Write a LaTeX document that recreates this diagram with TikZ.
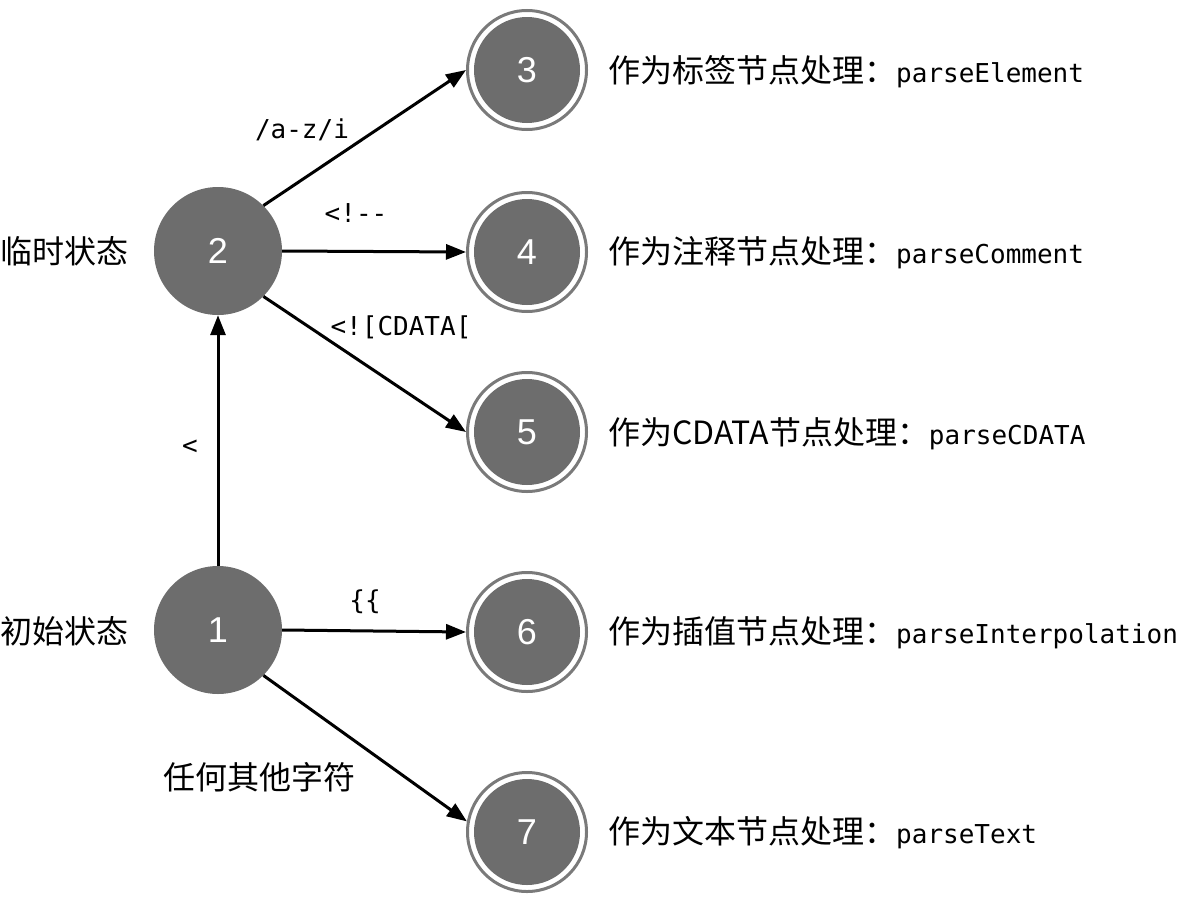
\documentclass[tikz,border=0pt]{standalone}
\usepackage{fontspec}
\setmainfont{Liberation Sans}
\newfontfamily\cjk{Noto Sans CJK SC}
\newfontfamily\mono{DejaVu Sans Mono}
\usetikzlibrary{arrows.meta}
\definecolor{stategray}{HTML}{6D6D6D}
\definecolor{ringgray}{HTML}{7A7A7A}
\tikzset{
  state/.style={circle, fill=stategray, inner sep=0pt, minimum size=128pt, text=white, font=\fontsize{36}{40}\selectfont},
  acc/.style={circle, fill=stategray, inner sep=0pt, minimum size=106pt, text=white, font=\fontsize{36}{40}\selectfont},
  ring/.style={circle, draw=ringgray, line width=3pt, fill=white, inner sep=0pt, minimum size=119pt},
  trans/.style={line width=3pt, -{Triangle[length=20pt,width=15pt]}},
  cjklabel/.style={font=\cjk\fontsize{32}{36}\selectfont, inner sep=0pt},
  monolabel/.style={font=\mono\fontsize{26}{30}\selectfont, inner sep=0pt},
  desc/.style={anchor=west, inner sep=0pt}
}
\newcommand{\desctext}[2]{{\cjk\fontsize{32}{36}\selectfont #1}{\mono\fontsize{26}{30}\selectfont #2}}
\begin{document}
\begin{tikzpicture}[x=1pt,y=-1pt]
\useasboundingbox (0,0) rectangle (1185,902);
% start states
\node[state] (n1) at (218,630) {1};
\node[state] (n2) at (218,251) {2};
% accepting states
\node[ring] (o3) at (527,70) {};
\node[acc] (n3) at (527,70) {3};
\node[ring] (o4) at (527,252) {};
\node[acc] (n4) at (527,252) {4};
\node[ring] (o5) at (527,432) {};
\node[acc] (n5) at (527,432) {5};
\node[ring] (o6) at (527,632) {};
\node[acc] (n6) at (527,632) {6};
\node[ring] (o7) at (527,832) {};
\node[acc] (n7) at (527,832) {7};
% side labels
\node[cjklabel, anchor=west] (l2) at (0,251) {临时状态};
\node[cjklabel, anchor=west] (l1) at (0,631) {初始状态};
\node[desc] (d3) at (608,72) {\desctext{作为标签节点处理：}{parseElement}};
\node[desc] (d4) at (608,253) {\desctext{作为注释节点处理：}{parseComment}};
\node[desc] (d5) at (608,434) {\desctext{作为CDATA节点处理：}{parseCDATA}};
\node[desc] (d6) at (608,633) {\desctext{作为插值节点处理：}{parseInterpolation}};
\node[desc] (d7) at (608,833) {\desctext{作为文本节点处理：}{parseText}};
% transitions
\draw[trans] (n1.north) -- (n2.south);
\draw[trans] (n2.45) -- (o3.west);
\draw[trans] (n2.east) -- (o4.west);
\draw[trans] (n2.-45) -- (o5.west);
\draw[trans] (n1.east) -- (o6.west);
\draw[trans] (n1.-45) -- (o7.170);
% transition labels
\node[monolabel] (t12) at (190,447) {<};
\node[monolabel] (t23) at (302,130) {/a-z/i};
\node[monolabel] (t24) at (356,213) {<!--};
\node[monolabel] (t25) at (401,327) {<![CDATA[};
\node[monolabel] (t16) at (365,602) {\{\{};
\node[cjklabel] (t17) at (259,777) {任何其他字符};
\end{tikzpicture}
\end{document}
